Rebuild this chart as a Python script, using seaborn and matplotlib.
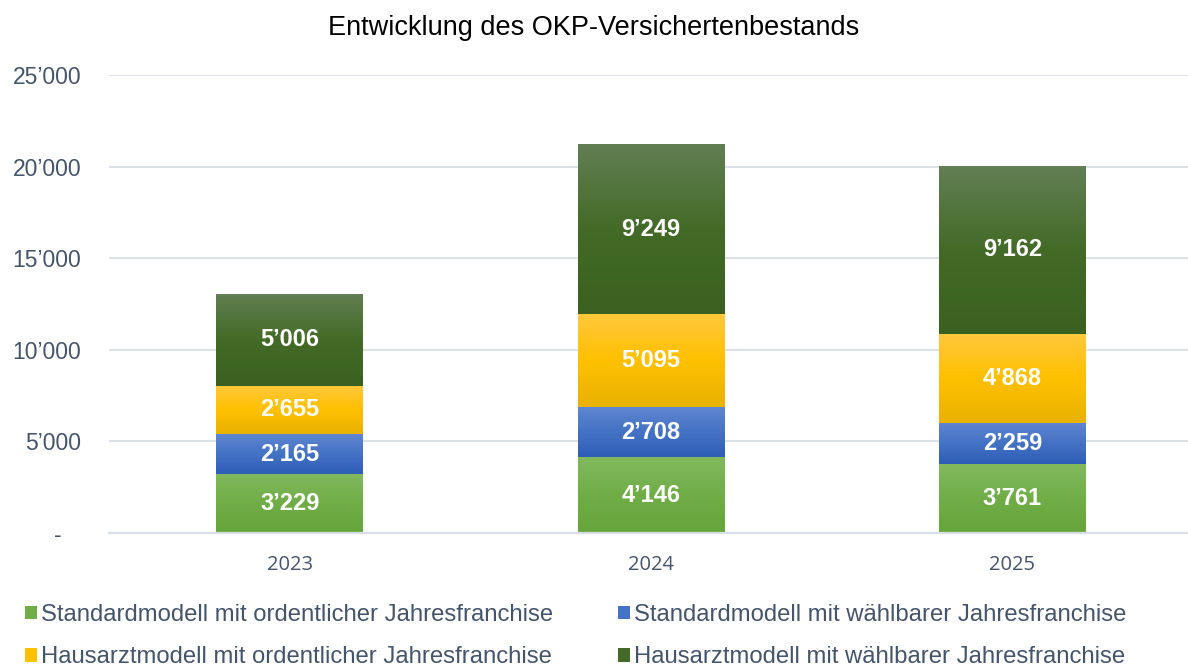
"""Entwicklung des OKP-Versichertenbestands: gestapelte Balken mit Verlauf."""
import matplotlib
matplotlib.use("Agg")
import matplotlib.pyplot as plt
import numpy as np
import seaborn as sns
from matplotlib.colors import LinearSegmentedColormap
from matplotlib.patches import Patch

years = ["2023", "2024", "2025"]
std_ordentlich = [3229, 4146, 3761]
std_waehlbar = [2165, 2708, 2259]
haus_ordentlich = [2655, 5095, 4868]
haus_waehlbar = [5006, 9249, 9162]

series_names = [
    "Standardmodell mit ordentlicher Jahresfranchise",
    "Standardmodell mit wählbarer Jahresfranchise",
    "Hausarztmodell mit ordentlicher Jahresfranchise",
    "Hausarztmodell mit wählbarer Jahresfranchise",
]
series_values = [std_ordentlich, std_waehlbar, haus_ordentlich, haus_waehlbar]

# Verlauf: oben hell, Mitte Grundfarbe, unten dunkler
gradients = [
    ["#82B95E", "#70AD47", "#66A53A"],
    ["#5F86D0", "#4472C4", "#2E5DB6"],
    ["#FFC83E", "#FFC000", "#E8B200"],
    ["#627F54", "#436B27", "#3A611F"],
]
legend_colors = ["#70AD47", "#4472C4", "#FFC000", "#436B27"]

TEXT = "#44546A"
GRID = "#D9DEE6"


def swiss(v):
    return f"{int(round(v)):,}".replace(",", "\u2019")


sns.set_theme(style="white")
plt.rcParams["font.family"] = ["Liberation Sans", "DejaVu Sans"]

fig = plt.figure(figsize=(11.88, 6.66), dpi=100)
ax = fig.add_axes([109 / 1188, 1 - 533 / 666, 1084 / 1188, (533 - 75) / 666])

bottom = np.zeros(len(years))
segments = []
for name, vals, grad in zip(series_names, series_values, gradients):
    n_before = len(ax.patches)
    sns.barplot(x=years, y=vals, bottom=bottom, color=grad[1], width=0.405,
                linewidth=0, ax=ax, zorder=3)
    for patch, v in zip(ax.patches[n_before:], vals):
        segments.append((patch, v, grad))
    bottom = bottom + np.array(vals)

for patch, v, grad in segments:
    x0, y0 = patch.get_x(), patch.get_y()
    w, h = patch.get_width(), patch.get_height()
    cmap = LinearSegmentedColormap.from_list("g", grad[::-1])
    img = np.linspace(0, 1, 256).reshape(-1, 1)
    ax.imshow(img, extent=[x0, x0 + w, y0, y0 + h], origin="lower",
              aspect="auto", cmap=cmap, zorder=3.5, interpolation="bicubic")
    ax.text(x0 + w / 2, y0 + h / 2, swiss(v), ha="center", va="center",
            color="white", fontsize=17, fontweight="bold", zorder=5)

ax.set_xlim(-0.5, 2.5)
ax.set_ylim(0, 25000)
ax.set_yticks(np.arange(0, 25001, 5000))
ax.yaxis.set_major_formatter(
    plt.FuncFormatter(lambda v, _: "-   " if v == 0 else swiss(v)))
ax.yaxis.grid(True, color=GRID, linewidth=1.3, zorder=0)
ax.set_axisbelow(True)
for side in ["left", "right", "top"]:
    ax.spines[side].set_visible(False)
ax.spines["bottom"].set_color(GRID)
ax.spines["bottom"].set_linewidth(1.6)
ax.spines["bottom"].set_zorder(4)
ax.tick_params(axis="y", length=0, pad=20, labelsize=16.5, labelcolor=TEXT)
ax.tick_params(axis="x", length=0, pad=16, labelsize=14.5, labelcolor=TEXT)
for lbl in ax.get_xticklabels():
    lbl.set_family(["Open Sans", "DejaVu Sans"])
ax.set_xlabel("")
ax.set_ylabel("")

fig.text(0.5, 1 - 28 / 666, "Entwicklung des OKP-Versichertenbestands",
         ha="center", va="center", fontsize=19.5, color="black")

handles = [Patch(facecolor=c, edgecolor="none") for c in legend_colors]
order = [0, 2, 1, 3]
leg = fig.legend([handles[i] for i in order], [series_names[i] for i in order],
                 loc="upper left", bbox_to_anchor=(25 / 1188, 1 - 604 / 666),
                 ncol=2, frameon=False, fontsize=17.2, labelcolor=TEXT,
                 handlelength=0.52, handleheight=0.52, handletextpad=0.15,
                 columnspacing=2.7, labelspacing=0.85, borderaxespad=0,
                 borderpad=0)

fig.savefig("out.png", dpi=100)
